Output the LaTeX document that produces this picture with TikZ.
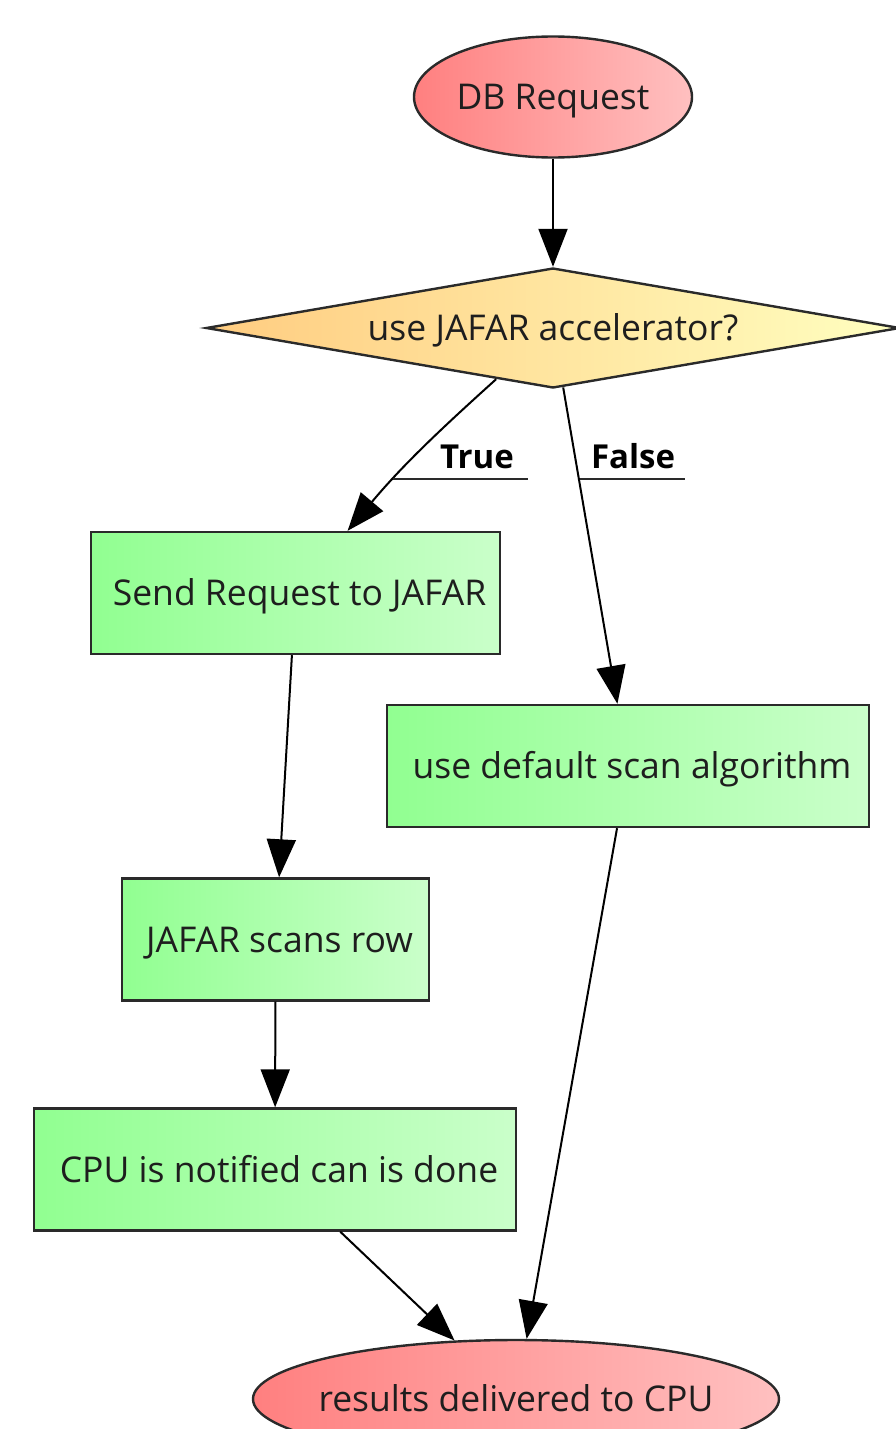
\documentclass[tikz,border=0pt]{standalone}
\usepackage{fontspec}
\setmainfont{Open Sans}
\usetikzlibrary{shapes.geometric,arrows.meta}
\definecolor{txt}{HTML}{1E1E1E}
\definecolor{bord}{HTML}{2A2A2A}
\newcommand{\pushr}{\hspace*{8pt}}
\begin{document}
\begin{tikzpicture}[x=1pt,y=1pt,
  every node/.style={text=txt,font=\fontsize{35.5}{42}\selectfont,text height=25pt,text depth=0pt},
  redoval/.style={ellipse,draw=bord,line width=2.4pt,left color=red!50!white!100,right color={rgb,255:red,255;green,192;blue,192},inner sep=0pt},
  greenbox/.style={rectangle,draw=bord,line width=2.4pt,left color={rgb,255:red,145;green,255;blue,145},right color={rgb,255:red,202;green,255;blue,202},inner sep=0pt,minimum height=122pt},
  decision/.style={diamond,aspect=5.8,draw=bord,line width=2.4pt,left color={rgb,255:red,255;green,204;blue,128},right color={rgb,255:red,255;green,255;blue,192},inner sep=0pt,minimum width=694pt,minimum height=120pt},
  flow/.style={draw=black,line width=2pt,-{Triangle[length=38pt,width=29pt]}},
  lbl/.style={font=\fontsize{33}{40}\selectfont\bfseries,text=black,inner sep=0pt},
  uline/.style={draw=bord,line width=2pt}
]
\useasboundingbox (0,0) rectangle (896,-1429);
\clip (0,0) rectangle (896,-1429);

\node[redoval,minimum width=278pt,minimum height=121pt] (db) at (553,-97) {DB Request};
\node[decision] (dia) at (553,-328) {use JAFAR accelerator?};
\node[greenbox,minimum width=409pt] (send) at (295.5,-593) {\pushr Send Request to JAFAR};
\node[greenbox,minimum width=482pt] (def) at (628,-766) {\pushr use default scan algorithm};
\node[greenbox,minimum width=307pt] (scan) at (275.5,-939.5) {\pushr JAFAR scans row};
\node[greenbox,minimum width=482pt] (cpu) at (275,-1169.5) {\pushr CPU is notified can is done};
\node[redoval,inner xsep=-30pt,minimum width=526pt,minimum height=118pt] (res) at (516,-1399) {results delivered to CPU};

\draw[flow] (db) -- (dia);
\draw[flow] (dia) to[out=-138,in=50] (send);
\draw[flow] (dia) -- (def);
\draw[flow] (send) -- (scan);
\draw[flow] (scan) -- (cpu);
\draw[flow] (cpu) -- (res);
\draw[flow] (def) -- (res);

\node[lbl] (tl) at (477,-456) {True};
\coordinate (tu1) at (393,-479);
\coordinate (tu2) at (528,-479);
\draw[uline] (tu1) -- (tu2);
\node[lbl] (fl) at (633,-456) {False};
\coordinate (fu1) at (580,-479);
\coordinate (fu2) at (685,-479);
\draw[uline] (fu1) -- (fu2);
\end{tikzpicture}
\end{document}
